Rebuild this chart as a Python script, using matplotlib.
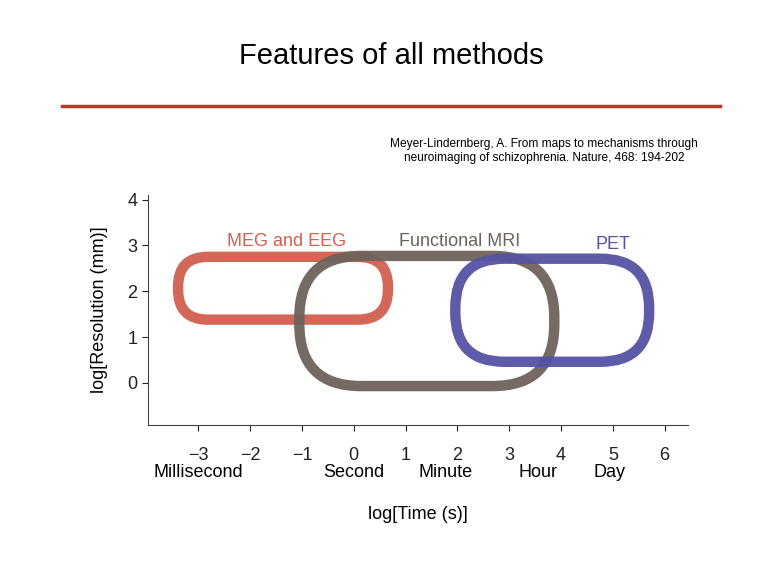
import matplotlib
matplotlib.use("Agg")
import matplotlib.pyplot as plt
from matplotlib.patches import FancyBboxPatch
from matplotlib.lines import Line2D

plt.rcParams['font.family'] = ['Liberation Sans', 'DejaVu Sans']

names = ["MEG and EEG", "Functional MRI", "PET"]
x0 = [-3.39, -1.05, 1.96]
x1 = [0.66, 3.87, 5.70]
y0 = [1.38, -0.07, 0.46]
y1 = [2.75, 2.77, 2.71]
colors = ["#d2604f", "#6e625c", "#5552a3"]
label_xy = [(-1.3, 2.9), (2.05, 2.9), (5.0, 2.83)]
xticks = [-3, -2, -1, 0, 1, 2, 3, 4, 5, 6]
yticks = [0, 1, 2, 3, 4]
unit_labels = ["Millisecond", "Second", "Minute", "Hour", "Day"]
unit_pos = [-3, 0, 1.78, 3.56, 4.94]

fig = plt.figure(figsize=(7.82, 5.70), dpi=100)
fig.text(0.5, 1-56/570, "Features of all methods", ha='center', va='center', fontsize=21)
fig.add_artist(Line2D([62/782, 720/782], [1-106/570]*2, color='#d9282a', lw=2.5))
fig.text(544/782, 1-151/570, "Meyer-Lindernberg, A. From maps to mechanisms through\nneuroimaging of schizophrenia. Nature, 468: 194-202",
         ha='center', va='center', fontsize=8.6)

ax = fig.add_axes([148/782, 1-425/570, 540/782, 230/570])
ax.set_xlim(-3.97, 6.45)
ax.set_ylim(-0.92, 4.1)
ax.spines['top'].set_visible(False)
ax.spines['right'].set_visible(False)
for s in ['left', 'bottom']:
    ax.spines[s].set_color('#444444')
ax.set_xticks(xticks)
ax.set_xticklabels([str(v).replace('-', '\u2212') for v in xticks], fontsize=13)
ax.set_yticks(yticks)
ax.set_yticklabels([str(v) for v in yticks], fontsize=13)
ax.tick_params(colors='#222222', length=4)
ax.tick_params(axis='x', pad=12)
ax.set_ylabel("log[Resolution (mm)]", fontsize=13, labelpad=14)
ax.set_xlabel("log[Time (s)]", fontsize=13, labelpad=30)
for u, p in zip(unit_labels, unit_pos):
    ax.text(p, -1.77, u, ha='center', va='top', fontsize=13, clip_on=False)

aspect = (51.8 / 45.75)
for n, a, b, c, d, col, (lx, ly) in zip(names, x0, x1, y0, y1, colors, label_xy):
    r = min((b - a) / 2, (d - c) / 2 / aspect) * 0.95
    p = FancyBboxPatch((a, c), b - a, d - c, boxstyle=f"round,pad=0,rounding_size={r}",
                       mutation_aspect=aspect, fill=False, ec=col, lw=7.5, alpha=0.95)
    ax.add_patch(p)
    ax.text(lx, ly, n, color=col, ha='center', va='bottom', fontsize=13)

fig.savefig("out.png", dpi=100)
